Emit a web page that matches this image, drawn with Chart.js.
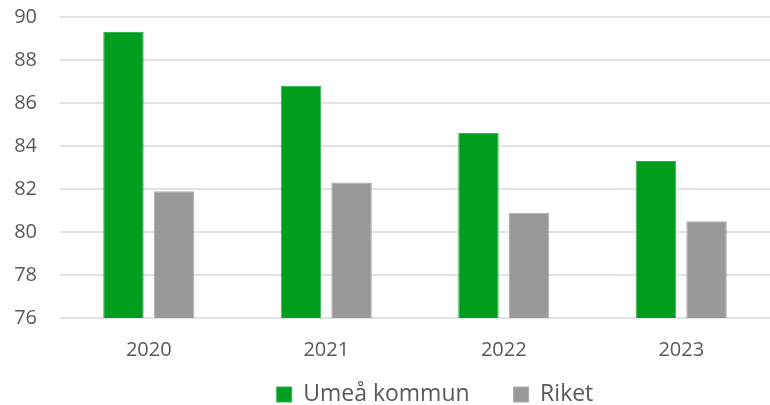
<!DOCTYPE html>
<html>
<head>
<meta charset="utf-8">
<script src="https://cdn.jsdelivr.net/npm/chart.js@4"></script>
<style>
  html, body { margin: 0; padding: 0; background: #fff; }
  #wrap { width: 770px; height: 405px; }
</style>
</head>
<body>
<div id="wrap"><canvas id="chart"></canvas></div>
<script>
const years = ["2020", "2021", "2022", "2023"];
const umea = [89.3, 86.8, 84.6, 83.3];
const riket = [81.9, 82.3, 80.9, 80.5];
const yMin = 76;
const yMax = 90;
const yStep = 2;

const ctx = document.getElementById("chart").getContext("2d");
Chart.defaults.font.family = "'Open Sans', sans-serif";
Chart.defaults.color = "#595959";

// wide gap between legend items but a short legend box, items nudged into place
const legendGap = {
    id: "legendGap",
    afterInit(chart) {
        const legend = chart.legend;
        const fit = legend.fit;
        legend.fit = function () {
            fit.call(this);
            this.height = 23;
        };
        const draw = legend.draw;
        legend.draw = function () {
            const { top, left, right } = this;
            this.top = top - 43;
            this.left = left + 44;
            this.right = right + 44;
            draw.call(this);
            this.top = top;
            this.left = left;
            this.right = right;
        };
    }
};

new Chart(ctx, {
    type: "bar",
    data: {
        labels: years,
        datasets: [
            {
                label: "Umeå kommun",
                data: umea,
                backgroundColor: "#009e1f",
                borderColor: "#33b44c",
                borderWidth: 1,
                barPercentage: 0.8,
                categoryPercentage: 0.57
            },
            {
                label: "Riket",
                data: riket,
                backgroundColor: "#999999",
                borderColor: "#aaaaaa",
                borderWidth: 1,
                barPercentage: 0.8,
                categoryPercentage: 0.57
            }
        ]
    },
    options: {
        responsive: true,
        maintainAspectRatio: false,
        animation: false,
        layout: { padding: { left: 12, right: 0, top: 3, bottom: 0 } },
        plugins: {
            tooltip: { enabled: false },
            legend: {
                position: "bottom",
                labels: {
                    boxWidth: 15,
                    boxHeight: 15,
                    padding: 44,
                    font: { size: 23 },
                    color: "#595959"
                }
            }
        },
        scales: {
            x: {
                grid: { display: false, drawTicks: false },
                border: { display: false },
                ticks: { font: { size: 20 }, color: "#595959", padding: 20 }
            },
            y: {
                min: yMin,
                max: yMax,
                ticks: { stepSize: yStep, font: { size: 20 }, color: "#595959", padding: 23 },
                grid: { color: "#e2e2e2", lineWidth: 2, drawTicks: false },
                border: { display: false },
                afterFit(scale) {
                    scale.width = 48;
                    scale.paddingTop = 17;
                    scale.paddingBottom = 13;
                }
            }
        }
    },
    plugins: [legendGap]
});
</script>
</body>
</html>
